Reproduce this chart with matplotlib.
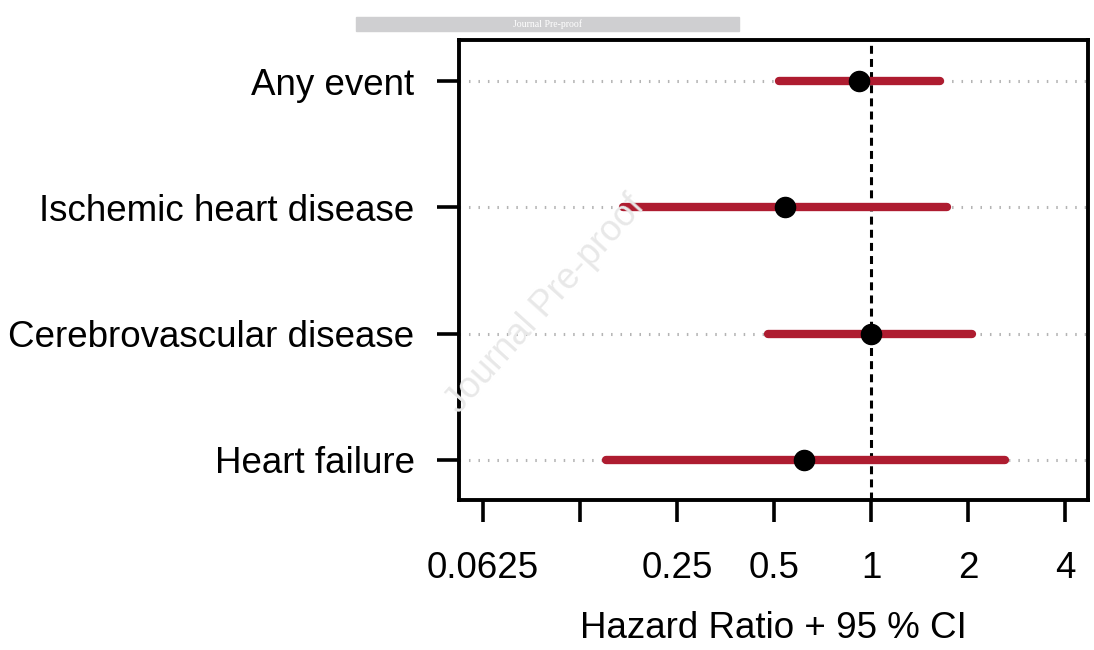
import numpy as np
import matplotlib
matplotlib.use("Agg")
from matplotlib import pyplot as plt
from matplotlib.patches import Rectangle

# outcomes, top to bottom
outcomes = ["Any event", "Ischemic heart disease", "Cerebrovascular disease", "Heart failure"]
hr = [0.92, 0.54, 1.00, 0.62]
ci_low = [0.52, 0.17, 0.48, 0.15]
ci_high = [1.64, 1.72, 2.06, 2.60]
xticks = [0.0625, 0.125, 0.25, 0.5, 1, 2, 4]
xtick_labels = ["0.0625", "", "0.25", "0.5", "1", "2", "4"]

plt.rcParams['font.family'] = ['Liberation Sans', 'DejaVu Sans']

fig = plt.figure(figsize=(10.94, 6.5), dpi=100)
ax = fig.add_axes([0.4196, 0.2308, 0.5749, 0.7077])

ypos = np.arange(len(outcomes), 0, -1)

for y in ypos:
    ax.axhline(y, color="#b4b4b4", lw=2.2, ls=(0, (0.5, 2.6)), zorder=1)

ax.axvline(1, color="black", lw=2.2, ls=(0, (2.6, 1.7)), zorder=2)

ax.hlines(ypos, ci_low, ci_high, color="#ae1c30", lw=6, capstyle="round", zorder=3)
ax.plot(hr, ypos, "o", color="black", ms=14.5, zorder=4)

ax.set_xscale("log", base=2)
ax.set_xlim(2 ** -4.247, 2 ** 2.237)
ax.set_ylim(0.683, 4.325)

ax.set_yticks(ypos)
ax.set_yticklabels(outcomes, fontsize=26.5)
ax.set_xticks(xticks)
ax.set_xticklabels(xtick_labels, fontsize=26.5)
ax.minorticks_off()
ax.tick_params(axis="y", length=16, width=2.6, pad=16)
ax.tick_params(axis="x", length=16, width=2.6, pad=21)
ax.set_xlabel("Hazard Ratio + 95 % CI", fontsize=26.5, labelpad=18)

for s in ax.spines.values():
    s.set_linewidth(2.8)

# journal header bar and watermark
fig.patches.append(Rectangle((0.3254, 0.952), 0.350, 0.022, transform=fig.transFigure,
                             color="#cfcfd1", zorder=0))
fig.text(0.5005, 0.963, "Journal Pre-proof", color="white", fontsize=7,
         family="Liberation Serif", ha="center", va="center")
fig.text(0.499, 0.531, "Journal Pre-proof", color="#e8e8e8", fontsize=26,
         rotation=48, ha="center", va="center", zorder=0)

fig.savefig("out.png", dpi=100)
